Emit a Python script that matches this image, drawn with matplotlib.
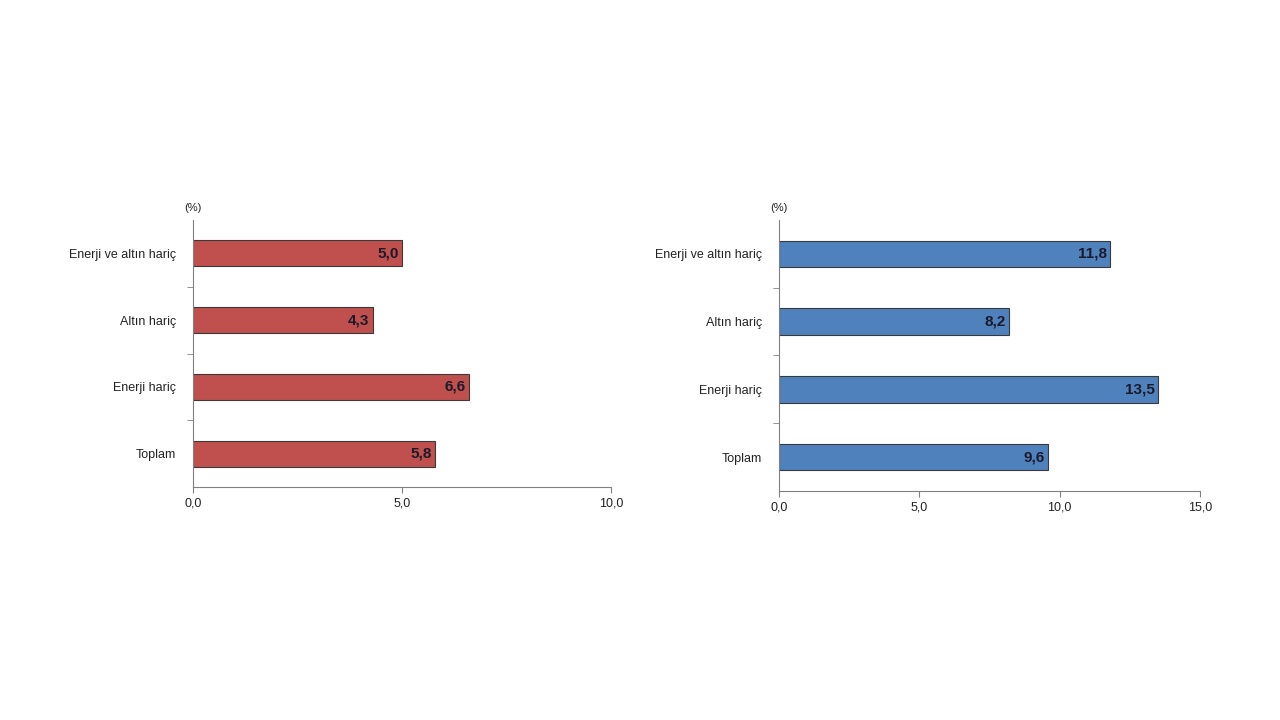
import matplotlib.pyplot as plt
import numpy as np

# Categories (top to bottom)
categories = ["Enerji ve altın hariç", "Altın hariç", "Enerji hariç", "Toplam"]
left_values = [5.0, 4.3, 6.6, 5.8]
right_values = [11.8, 8.2, 13.5, 9.6]
left_ticks = [0, 5, 10]
right_ticks = [0, 5, 10, 15]

plt.rcParams['font.family'] = ['Liberation Sans', 'DejaVu Sans']


def fmt(v):
    return f"{v:.1f}".replace(".", ",")


def draw_panel(ax, values, ticks, color, xmax):
    y = np.arange(len(categories))[::-1]
    ax.barh(y, values, height=0.39, color=color, edgecolor='#3a3a3a', linewidth=0.8)
    for yi, v in zip(y, values):
        ax.text(v - xmax * 0.008, yi, fmt(v), ha='right', va='center',
                fontsize=11, fontweight='bold', color='#1a1a2a')
    ax.set_xlim(0, xmax)
    ax.set_ylim(-0.5, len(categories) - 0.5)
    ax.set_yticks(y)
    ax.set_yticklabels(categories, fontsize=9, color='#222222')
    ax.set_yticks([0.5, 1.5, 2.5], minor=True)
    ax.tick_params(axis='y', which='major', length=0, pad=12)
    ax.tick_params(axis='y', which='minor', length=4, color='#808080')
    ax.set_xticks(ticks)
    ax.set_xticklabels([fmt(t) for t in ticks], fontsize=9, color='#222222')
    ax.tick_params(axis='x', length=4, color='#808080')
    for s in ['top', 'right']:
        ax.spines[s].set_visible(False)
    for s in ['left', 'bottom']:
        ax.spines[s].set_color('#808080')
    ax.text(0, 1.025, "(%)", transform=ax.transAxes, ha='center', va='bottom',
            fontsize=8, color='#222222')


fig = plt.figure(figsize=(12.8, 7.2), dpi=100)
ax1 = fig.add_axes([0.1508, 0.3236, 0.3266, 0.3708])
ax2 = fig.add_axes([0.6086, 0.3181, 0.3289, 0.3764])

draw_panel(ax1, left_values, left_ticks, '#c0504d', 10)
draw_panel(ax2, right_values, right_ticks, '#4f81bd', 15)

fig.savefig("out.png", dpi=100)
